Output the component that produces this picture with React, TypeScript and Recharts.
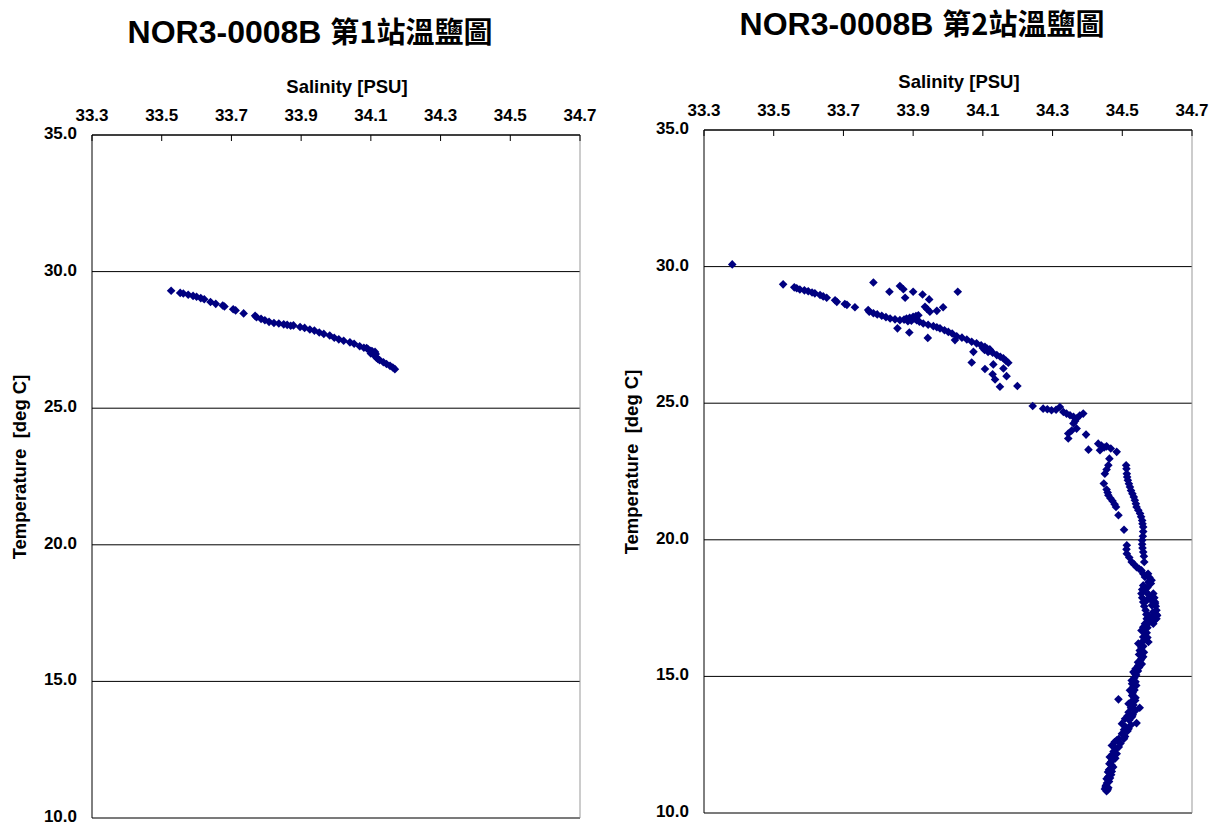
import { ScatterChart, Scatter, XAxis, YAxis, CartesianGrid, ReferenceLine } from "recharts";

// salinity axis ticks (PSU) and temperature ticks (deg C)
const salinityTicks = [33.3, 33.5, 33.7, 33.9, 34.1, 34.3, 34.5, 34.7];
const tempTicks = [10, 15, 20, 25, 30, 35];

// station 1: [salinity, temperature]
const station1: [number, number][] = [
  [33.527, 29.3], [33.553, 29.22], [33.562, 29.2], [33.576, 29.15], [33.59, 29.11],
  [33.6, 29.08], [33.612, 29.03], [33.622, 28.99], [33.64, 28.89], [33.655, 28.82],
  [33.675, 28.76], [33.68, 28.72], [33.705, 28.62], [33.712, 28.58], [33.735, 28.47],
  [33.768, 28.38], [33.772, 28.33], [33.785, 28.27], [33.796, 28.22], [33.808, 28.16],
  [33.822, 28.12], [33.836, 28.1], [33.85, 28.07], [33.86, 28.05], [33.87, 28.02],
  [33.878, 28.03], [33.897, 27.97], [33.91, 27.94], [33.925, 27.88], [33.938, 27.84],
  [33.952, 27.77], [33.965, 27.72], [33.982, 27.66], [33.995, 27.58], [34.008, 27.52],
  [34.022, 27.47], [34.04, 27.41], [34.052, 27.36], [34.068, 27.27], [34.08, 27.21],
  [34.092, 27.16], [34.1, 27.1], [34.112, 27.06], [34.1, 27.0], [34.106, 27.02],
  [34.11, 26.94], [34.116, 26.85], [34.125, 26.76], [34.136, 26.68], [34.145, 26.62],
  [34.155, 26.55], [34.163, 26.49], [34.169, 26.43], [34.088, 27.2], [34.104, 27.08],
  [34.114, 26.98], [34.12, 26.8],
];

// station 2: [salinity, temperature]
const station2Upper: [number, number][] = [
  [33.381, 30.08], [33.527, 29.35], [33.559, 29.24], [33.566, 29.21], [33.575, 29.16],
  [33.588, 29.13], [33.599, 29.1], [33.61, 29.05], [33.618, 29.02], [33.633, 28.96],
  [33.642, 28.91], [33.652, 28.86], [33.676, 28.77], [33.681, 28.71], [33.704, 28.63],
  [33.71, 28.6], [33.733, 28.51], [33.771, 28.41], [33.774, 28.35], [33.786, 28.29],
  [33.797, 28.25], [33.81, 28.2], [33.822, 28.15], [33.834, 28.1], [33.848, 28.07],
  [33.862, 28.04], [33.874, 28.06], [33.881, 28.1], [33.89, 28.13], [33.9, 28.16],
  [33.908, 28.19], [33.915, 28.22], [33.895, 28.02], [33.91, 28.04], [33.918, 27.98],
  [33.929, 27.92], [33.943, 27.87], [33.958, 27.82], [33.968, 27.78], [33.977, 27.74],
  [33.99, 27.67], [34.001, 27.61], [34.012, 27.55], [34.025, 27.45], [34.04, 27.4],
  [34.054, 27.33], [34.068, 27.25], [34.082, 27.19], [34.095, 27.12], [34.106, 27.06],
  [34.112, 27.0], [34.12, 26.97], [34.105, 26.95], [34.115, 26.88], [34.128, 26.85],
  [34.14, 26.76], [34.15, 26.7], [34.159, 26.64], [34.166, 26.56], [34.173, 26.48],
  [33.786, 29.42], [33.832, 29.08], [33.862, 29.29], [33.872, 29.17], [33.9, 29.08],
  [33.877, 28.86], [33.927, 28.98], [33.946, 28.8], [33.934, 28.53], [33.94, 28.45],
  [33.948, 28.35], [33.968, 28.38], [33.986, 28.51], [34.028, 29.08], [33.855, 27.74],
  [33.889, 27.59], [33.942, 27.39], [34.02, 27.31], [34.073, 26.88], [34.068, 26.49],
  [34.106, 26.25], [34.13, 26.42], [34.128, 26.06], [34.135, 25.87], [34.149, 25.6],
  [34.168, 25.99], [34.159, 26.27], [34.199, 25.63], [33.885, 28.0], [33.905, 28.1],
  [34.1, 27.02], [34.118, 26.92],
];

const station2Middle: [number, number][] = [
  [34.243, 24.9], [34.273, 24.8], [34.285, 24.78], [34.297, 24.74], [34.31, 24.76],
  [34.321, 24.86], [34.331, 24.68], [34.34, 24.62], [34.35, 24.56], [34.36, 24.5],
  [34.369, 24.44], [34.378, 24.55], [34.388, 24.62], [34.36, 24.26], [34.365, 24.35],
  [34.369, 24.07], [34.355, 24.0], [34.345, 23.89], [34.345, 23.71], [34.396, 23.85],
  [34.403, 23.3], [34.431, 23.52], [34.44, 23.45], [34.436, 23.28], [34.448, 23.38],
  [34.455, 23.42], [34.467, 23.34], [34.484, 23.22], [34.463, 22.97], [34.46, 22.73],
  [34.455, 22.57], [34.45, 22.42], [34.447, 22.06], [34.455, 21.84], [34.458, 21.73],
  [34.46, 21.63], [34.466, 21.52], [34.472, 21.42], [34.478, 21.3], [34.482, 21.2],
  [34.489, 20.9], [34.505, 20.37],
  [34.511, 22.73], [34.512, 22.6], [34.513, 22.42], [34.514, 22.3], [34.516, 22.18],
  [34.519, 22.05], [34.522, 21.93], [34.525, 21.8], [34.529, 21.69], [34.533, 21.57],
  [34.536, 21.45], [34.539, 21.32], [34.541, 21.2], [34.546, 21.08], [34.551, 20.96],
  [34.554, 20.84], [34.557, 20.71], [34.558, 20.59], [34.56, 20.47], [34.56, 20.3],
  [34.559, 20.13], [34.557, 19.98], [34.557, 19.84], [34.558, 19.7], [34.56, 19.55],
  [34.562, 19.4], [34.563, 19.19],
];

const station2Lower: [number, number][] = [
  [34.513, 19.8], [34.512, 19.65], [34.513, 19.49], [34.52, 19.35], [34.527, 19.19],
  [34.534, 19.1], [34.541, 19.0], [34.548, 18.94], [34.555, 18.88], [34.56, 18.76],
  [34.565, 18.64], [34.574, 18.76], [34.578, 18.62], [34.584, 18.52], [34.575, 18.45],
  [34.56, 18.33], [34.557, 18.18], [34.555, 18.03], [34.557, 17.88], [34.56, 17.72],
  [34.563, 17.57], [34.567, 17.42], [34.569, 17.27], [34.57, 17.11], [34.589, 18.03],
  [34.592, 17.88], [34.594, 17.72], [34.596, 17.57], [34.598, 17.42], [34.598, 17.27],
  [34.598, 17.11], [34.565, 16.81], [34.57, 17.78], [34.594, 17.66], [34.6, 17.23],
  [34.589, 16.93], [34.575, 17.23], [34.565, 16.93], [34.58, 17.05], [34.592, 17.05],
  [34.56, 16.8], [34.555, 16.68], [34.57, 16.6], [34.56, 16.44], [34.575, 16.26],
  [34.565, 16.35], [34.546, 16.2], [34.56, 16.1], [34.55, 15.95], [34.548, 15.8],
  [34.555, 15.65], [34.545, 15.52], [34.546, 15.4], [34.538, 15.28], [34.532, 15.16],
  [34.54, 15.05], [34.527, 14.85], [34.535, 14.95], [34.532, 14.61], [34.528, 14.73],
  [34.522, 14.49], [34.489, 14.16], [34.537, 14.12], [34.528, 14.3], [34.518, 14.0],
  [34.55, 13.85], [34.525, 13.85], [34.518, 13.69], [34.53, 13.6], [34.508, 13.45],
  [34.52, 13.4], [34.499, 13.27], [34.541, 13.29], [34.518, 13.08], [34.51, 13.15],
  [34.499, 12.9], [34.508, 12.8], [34.484, 12.66], [34.495, 12.55], [34.47, 12.47],
  [34.482, 12.35], [34.484, 12.17], [34.475, 12.25], [34.464, 12.05], [34.472, 11.95],
  [34.463, 11.8], [34.474, 11.68], [34.466, 11.62], [34.459, 11.5], [34.468, 11.4],
  [34.455, 11.25], [34.462, 11.15], [34.453, 11.01], [34.46, 10.92], [34.455, 10.8],
  [34.45, 10.88],
];

// extra points filling the thick band below 19 deg C
const station2Band: [number, number][] = [
  [34.57, 18.7], [34.582, 18.4], [34.572, 18.25], [34.568, 18.1], [34.578, 17.95],
  [34.582, 17.8], [34.585, 17.6], [34.588, 17.35], [34.586, 17.15], [34.578, 16.98],
  [34.572, 16.78], [34.566, 16.55], [34.572, 16.42], [34.558, 16.28], [34.555, 16.05],
  [34.562, 15.88], [34.56, 15.72], [34.552, 15.58], [34.556, 15.45], [34.548, 15.33],
  [34.545, 15.2], [34.536, 15.1], [34.538, 14.8], [34.54, 14.67], [34.535, 14.5],
  [34.53, 14.4], [34.538, 14.22], [34.528, 14.1], [34.532, 13.95], [34.538, 13.75],
  [34.528, 13.52], [34.515, 13.55], [34.525, 13.22], [34.515, 13.0], [34.505, 13.05],
  [34.505, 12.72], [34.49, 12.72], [34.49, 12.42], [34.478, 12.6], [34.472, 12.15],
  [34.48, 12.0], [34.468, 11.88], [34.47, 11.75], [34.462, 11.58], [34.47, 11.52],
  [34.46, 11.33], [34.465, 11.28], [34.456, 11.1], [34.452, 10.95], [34.458, 10.85],
];

const toRows = (pts: [number, number][]) => pts.map(([s, t]) => ({ s, t }));

const FONT = "'Liberation Sans', Arial, sans-serif";

const Diamond = (props: any) => {
  const { cx, cy } = props;
  const r = 4.3;
  return (
    <polygon
      points={`${cx},${cy - r} ${cx + r},${cy} ${cx},${cy + r} ${cx - r},${cy}`}
      fill="#000080"
    />
  );
};

const SalinityTick = (props: any) => {
  const { x, y, payload } = props;
  return (
    <g>
      <line x1={x} x2={x} y1={y} y2={y + 6} stroke="#000" />
      <text
        x={x}
        y={y - 14}
        textAnchor="middle"
        fontSize={17}
        fontWeight="bold"
        fontFamily={FONT}
        fill="#000"
      >
        {Number(payload.value).toFixed(1)}
      </text>
    </g>
  );
};

const TempTick = (props: any) => {
  const { x, y, payload } = props;
  return (
    <text
      x={x}
      y={y + 4}
      textAnchor="end"
      fontSize={17}
      fontWeight="bold"
      fontFamily={FONT}
      fill="#000"
    >
      {Number(payload.value).toFixed(1)}
    </text>
  );
};

interface ChartProps {
  station: string;
  points: [number, number][];
  left: number;
  top: number;
  titleY: number;
}

function TSChart({ station, points, left, top, titleY }: ChartProps) {
  const data = toRows(points);
  return (
    <div style={{ position: "absolute", left, top, width: 612, height: 840 }}>
      <ScatterChart
        width={600}
        height={840}
        margin={{ top: 105, right: 20, bottom: 22, left: 30 }}
      >
        <CartesianGrid vertical={false} stroke="#000" />
        <XAxis
          type="number"
          dataKey="s"
          orientation="top"
          domain={[33.3, 34.7]}
          ticks={salinityTicks}
          interval={0}
          height={30}
          tickSize={0}
          tickMargin={0}
          tick={<SalinityTick />}
          axisLine={{ stroke: "#000" }}
          allowDataOverflow
        />
        <YAxis
          type="number"
          dataKey="t"
          domain={[10, 35]}
          ticks={tempTicks}
          interval={0}
          width={62}
          tickLine={false}
          tickSize={0}
          tickMargin={15}
          tick={<TempTick />}
          axisLine={{ stroke: "#000" }}
          allowDataOverflow
        />
        <ReferenceLine x={34.7} stroke="#999" />
        <ReferenceLine y={10} stroke="#777" />
        <Scatter data={data} shape={<Diamond />} isAnimationActive={false} />
      </ScatterChart>
      <svg
        width={612}
        height={840}
        style={{ position: "absolute", left: 0, top: 0, pointerEvents: "none" }}
      >
        <text x={310} y={titleY} textAnchor="middle" fontWeight="bold" fill="#000">
          <tspan fontFamily={FONT} fontSize={32}>
            NOR3-0008B{" "}
          </tspan>
          <tspan fontFamily="'Noto Sans CJK TC', sans-serif" fontSize={29}>
            {station}
          </tspan>
        </text>
        <text
          x={347}
          y={93}
          textAnchor="middle"
          fontSize={18.5}
          fontWeight="bold"
          fontFamily={FONT}
          fill="#000"
        >
          Salinity [PSU]
        </text>
        <text
          x={26}
          y={467}
          textAnchor="middle"
          fontSize={18.5}
          fontWeight="bold"
          fontFamily={FONT}
          fill="#000"
          transform="rotate(-90 26 467)"
          style={{ whiteSpace: "pre" }}
        >
          Temperature  [deg C]
        </text>
      </svg>
    </div>
  );
}

export default function App() {
  return (
    <div style={{ position: "absolute", left: 0, top: 0, width: 1214, height: 825, background: "#fff", overflow: "hidden" }}>
      <TSChart station="第1站溫鹽圖" points={station1} left={0} top={0} titleY={43} />
      <TSChart
        station="第2站溫鹽圖"
        points={[...station2Upper, ...station2Middle, ...station2Lower, ...station2Band]}
        left={612}
        top={-5}
        titleY={40}
      />
    </div>
  );
}
